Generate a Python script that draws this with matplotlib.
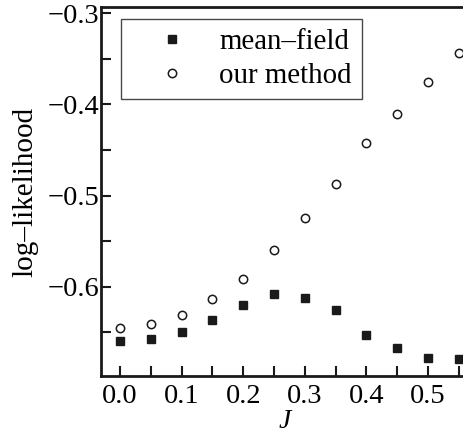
import matplotlib
matplotlib.use("Agg")
import matplotlib.pyplot as plt
from matplotlib.ticker import MultipleLocator, FuncFormatter

plt.rcParams['font.family'] = 'serif'
plt.rcParams['font.serif'] = ['Liberation Serif']
plt.rcParams['mathtext.fontset'] = 'custom'
plt.rcParams['mathtext.it'] = 'Liberation Serif:italic'
plt.rcParams['mathtext.rm'] = 'Liberation Serif'

J = [0.0, 0.05, 0.1, 0.15, 0.2, 0.25, 0.3, 0.35, 0.4, 0.45, 0.5, 0.55]
mean_field = [-0.660, -0.657, -0.650, -0.636, -0.620, -0.608,
              -0.612, -0.626, -0.653, -0.667, -0.678, -0.679]
our_method = [-0.645, -0.641, -0.631, -0.614, -0.591, -0.560,
              -0.525, -0.487, -0.442, -0.410, -0.375, -0.344]

fig = plt.figure(figsize=(4.64, 4.38), dpi=100)
ax = fig.add_axes([101 / 464, 62 / 438, 369 / 464, 369 / 438])

ax.plot(J, mean_field, ls='none', marker='s', ms=6.4, color='#1a1a1a',
        label='mean\u2013field')
ax.plot(J, our_method, ls='none', marker='o', ms=6, mfc='white',
        mec='#1a1a1a', mew=1.1, label='our method')

ax.set_xlim(-0.0308, 0.568)
ax.set_ylim(-0.698, -0.293)

ax.xaxis.set_major_locator(MultipleLocator(0.1))
ax.xaxis.set_minor_locator(MultipleLocator(0.05))
ax.yaxis.set_major_locator(MultipleLocator(0.1))
ax.yaxis.set_minor_locator(MultipleLocator(0.05))
ax.xaxis.set_major_formatter(FuncFormatter(lambda v, p: '%.1f' % abs(v)))
ax.yaxis.set_major_formatter(FuncFormatter(
    lambda v, p: ('%.1f' % v).replace('-', '\u2212')))

ax.tick_params(which='both', direction='in', length=7, width=1.5,
               top=False, right=False, labelsize=20.5, color='#1a1a1a')
ax.tick_params(axis='x', pad=6)
ax.tick_params(axis='y', pad=1)

for s in ax.spines.values():
    s.set_linewidth(2)
    s.set_color('#1a1a1a')

ax.set_xlabel('$J$', fontsize=20, labelpad=0)
ax.set_ylabel('log\u2013likelihood', fontsize=21, labelpad=7)

leg = ax.legend(loc='upper left', bbox_to_anchor=(0.054, 0.968), fontsize=20.8,
                frameon=True, fancybox=False, handlelength=2.85,
                handletextpad=0.2, borderpad=0.36, labelspacing=0.25,
                borderaxespad=0, numpoints=1)
leg.get_frame().set_edgecolor('#1a1a1a')
leg.get_frame().set_linewidth(1)

fig.savefig('out.png', dpi=100)
